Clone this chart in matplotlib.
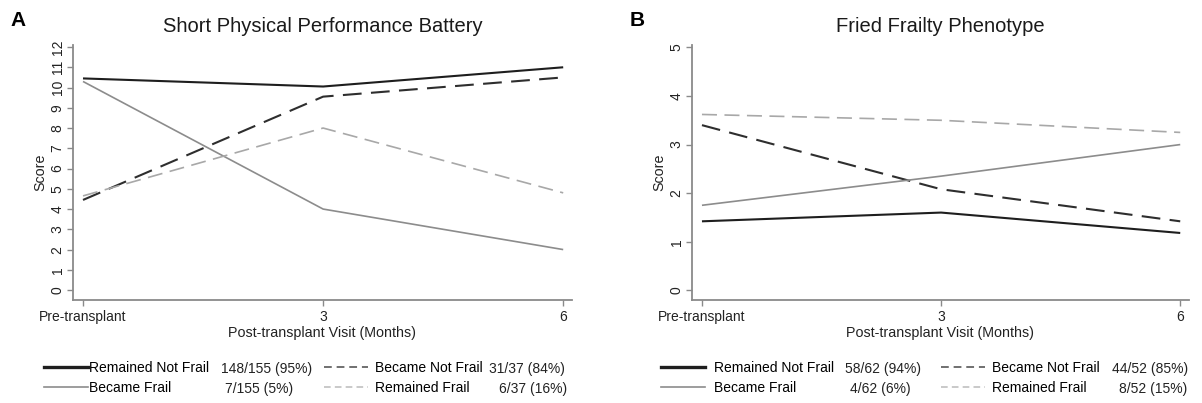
import matplotlib
matplotlib.use("Agg")
import matplotlib.pyplot as plt
from matplotlib.lines import Line2D

plt.rcParams['font.family'] = ['Liberation Sans', 'DejaVu Sans']

# ---- data ----
visits = [0, 3, 6]
visit_labels = ['Pre-transplant', '3', '6']

sppb_remained_not_frail = [10.45, 10.05, 11.0]
sppb_became_not_frail = [4.45, 9.55, 10.5]
sppb_became_frail = [10.3, 4.0, 2.0]
sppb_remained_frail = [4.65, 8.0, 4.8]

fried_remained_not_frail = [1.42, 1.60, 1.18]
fried_became_not_frail = [3.40, 2.08, 1.42]
fried_became_frail = [1.75, 2.35, 3.00]
fried_remained_frail = [3.62, 3.50, 3.25]

group_names = ['Remained Not Frail', 'Became Frail', 'Became Not Frail', 'Remained Frail']
sppb_counts = ['148/155 (95%)', '7/155 (5%)', '31/37 (84%)', '6/37 (16%)']
fried_counts = ['58/62 (94%)', '4/62 (6%)', '44/52 (85%)', '8/52 (15%)']

W, H = 1202, 403
fig = plt.figure(figsize=(W / 100, H / 100), dpi=100)

styles = {
    'rnf': dict(color='#1e1e1e', lw=1.5, ls='-'),
    'bnf': dict(color='#2e2e2e', lw=1.5, ls=(0, (9, 4.5))),
    'bf': dict(color='#8c8c8c', lw=1.2, ls='-'),
    'rf': dict(color='#a8a8a8', lw=1.2, ls=(0, (9, 4.5))),
}
leg_styles = {
    'rnf': dict(color='#1e1e1e', lw=2.4, ls='-'),
    'bnf': dict(color='#707070', lw=1.4, ls=(0, (4, 2.5))),
    'bf': dict(color='#8c8c8c', lw=1.2, ls='-'),
    'rf': dict(color='#c0c0c0', lw=1.2, ls=(0, (4, 2.5))),
}
SPINE = '#8a8a8a'
LEGFS = 10.0


def panel(x0, x1, series, yticks, ylim, title, letter, counts, leg):
    y0, y1 = 45, 300
    ax = fig.add_axes([x0 / W, 1 - y1 / H, (x1 - x0) / W, (y1 - y0) / H])
    keys = ['rnf', 'bnf', 'bf', 'rf']
    for k, vals in zip(keys, series):
        ax.plot(visits, vals, solid_capstyle='butt', **styles[k])
    ax.set_xlim(-0.125, 6.11)
    ax.set_ylim(*ylim)
    ax.set_xticks(visits)
    ax.set_xticklabels(visit_labels)
    ax.set_yticks(yticks)
    ax.set_yticklabels([str(t) for t in yticks], rotation=90, va='center')
    for s in ['top', 'right']:
        ax.spines[s].set_visible(False)
    for s in ['left', 'bottom']:
        ax.spines[s].set_color(SPINE)
        ax.spines[s].set_linewidth(1.3)
    ax.tick_params(axis='both', colors=SPINE, labelcolor='#222222', labelsize=10,
                   length=4, width=1.0)
    ax.tick_params(axis='y', pad=2)
    ax.tick_params(axis='x', pad=3)
    ax.set_xlabel('Post-transplant Visit (Months)', fontsize=10.3, color='#222222', labelpad=2)
    ax.set_ylabel('Score', fontsize=10.3, color='#222222')
    ax.yaxis.set_label_coords(-26 / (x1 - x0), 0.5)
    ax.set_title(title, fontsize=14.5, color='#1a1a1a', pad=9)
    fig.text((x0 - 55) / W, 1 - 21 / H, letter, fontsize=15, fontweight='bold',
             ha='center', va='center')

    # legend
    (lx_left, txt_left_pad, lx_right, txt_right_pad, count_x) = leg
    h1 = [Line2D([], [], **leg_styles['rnf']), Line2D([], [], **leg_styles['bf'])]
    h2 = [Line2D([], [], **leg_styles['bnf']), Line2D([], [], **leg_styles['rf'])]
    fig.legend(h1, [group_names[0], group_names[1]], loc='upper left',
               bbox_to_anchor=(lx_left / W, 1 - 361 / H), frameon=False,
               fontsize=LEGFS, handlelength=3.2, handletextpad=txt_left_pad,
               borderpad=0, borderaxespad=0, labelspacing=0.4)
    fig.legend(h2, [group_names[2], group_names[3]], loc='upper left',
               bbox_to_anchor=(lx_right / W, 1 - 361 / H), frameon=False,
               fontsize=LEGFS, handlelength=3.2, handletextpad=txt_right_pad,
               borderpad=0, borderaxespad=0, labelspacing=0.4)
    rows = [369.5, 389.5, 369.5, 389.5]
    for c, cx, ry in zip(counts, count_x, rows):
        fig.text(cx / W, 1 - ry / H, c, fontsize=LEGFS, ha='left', va='center',
                 color='#222222')
    return ax


panel(73, 572,
      [sppb_remained_not_frail, sppb_became_not_frail, sppb_became_frail, sppb_remained_frail],
      list(range(0, 13)), (-0.49, 12.1),
      'Short Physical Performance Battery', 'A', sppb_counts,
      (44, 0.07, 324, 0.5, [221, 225, 489, 499]))

panel(692, 1189,
      [fried_remained_not_frail, fried_became_not_frail, fried_became_frail, fried_remained_frail],
      list(range(0, 6)), (-0.2, 5.05),
      'Fried Frailty Phenotype', 'B', fried_counts,
      (661, 0.58, 941, 0.5, [845, 850, 1112, 1119]))

fig.savefig('out.png', dpi=100, facecolor='white')
